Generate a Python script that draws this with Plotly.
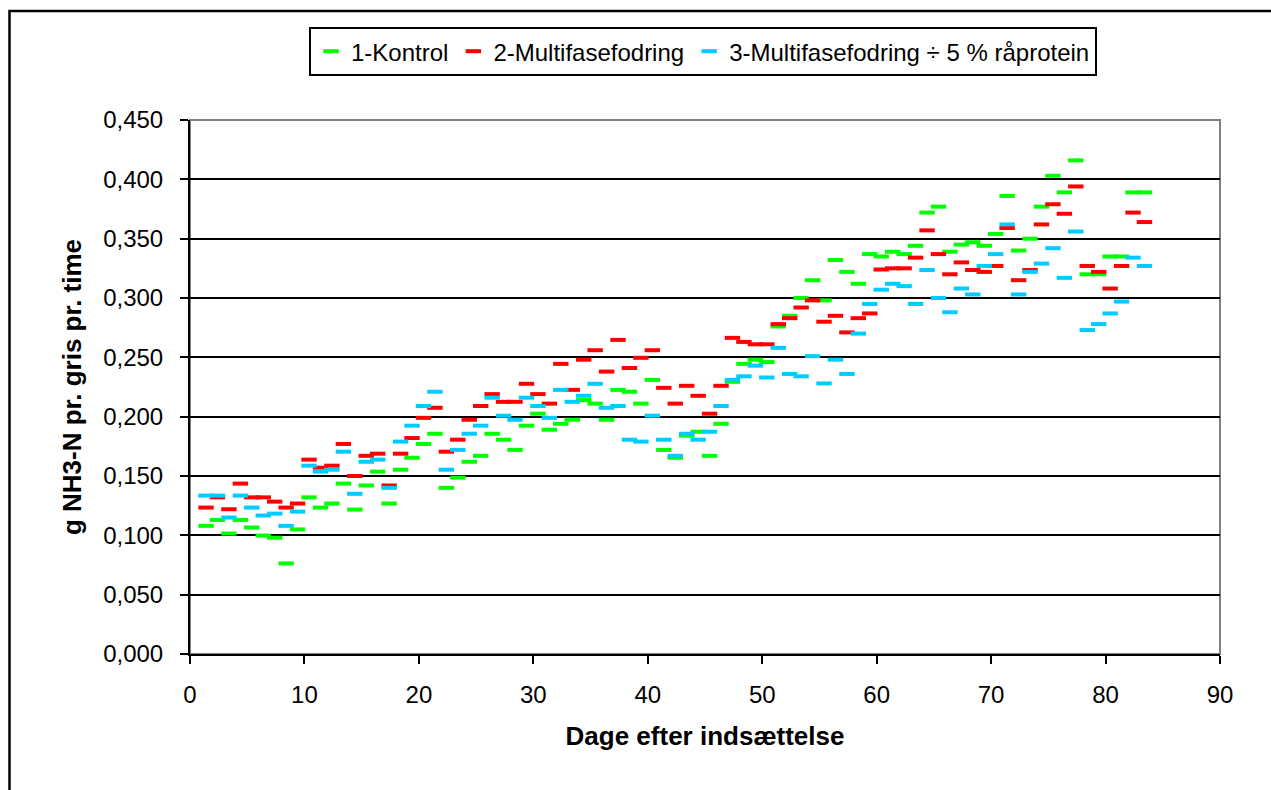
import plotly.graph_objects as go

days = [1.4, 2.4, 3.4, 4.4, 5.4, 6.4, 7.4, 8.4, 9.4, 10.4,
        11.4, 12.4, 13.4, 14.4, 15.4, 16.4, 17.4, 18.4, 19.4, 20.4,
        21.4, 22.4, 23.4, 24.4, 25.4, 26.4, 27.4, 28.4, 29.4, 30.4,
        31.4, 32.4, 33.4, 34.4, 35.4, 36.4, 37.4, 38.4, 39.4, 40.4,
        41.4, 42.4, 43.4, 44.4, 45.4, 46.4, 47.4, 48.4, 49.4, 50.4,
        51.4, 52.4, 53.4, 54.4, 55.4, 56.4, 57.4, 58.4, 59.4, 60.4,
        61.4, 62.4, 63.4, 64.4, 65.4, 66.4, 67.4, 68.4, 69.4, 70.4,
        71.4, 72.4, 73.4, 74.4, 75.4, 76.4, 77.4, 78.4, 79.4, 80.4,
        81.4, 82.4, 83.4]

kontrol = [0.108, 0.113, 0.1015, 0.113, 0.1066, 0.0998, 0.098, 0.0763, 0.105, 0.132,
           0.1234, 0.1268, 0.1436, 0.1217, 0.142, 0.1537, 0.1268, 0.1553, 0.1654, 0.177,
           0.1856, 0.140, 0.1486, 0.162, 0.167, 0.1856, 0.1806, 0.172, 0.1924, 0.2025,
           0.189, 0.194, 0.1974, 0.214, 0.211, 0.1974, 0.2226, 0.221, 0.211, 0.231,
           0.172, 0.1654, 0.184, 0.1873, 0.167, 0.194, 0.2294, 0.2445, 0.248, 0.246,
           0.276, 0.285, 0.300, 0.315, 0.298, 0.332, 0.322, 0.312, 0.337, 0.335,
           0.339, 0.337, 0.344, 0.372, 0.377, 0.339, 0.345, 0.347, 0.344, 0.354,
           0.386, 0.340, 0.350, 0.377, 0.403, 0.389, 0.416, 0.320, 0.320, 0.335,
           0.335, 0.389, 0.389]

multifase = [0.1234, 0.132, 0.122, 0.1436, 0.132, 0.132, 0.1284, 0.1234, 0.1268, 0.1638,
             0.157, 0.1587, 0.177, 0.150, 0.167, 0.1688, 0.142, 0.1688, 0.182, 0.199,
             0.2075, 0.1705, 0.1806, 0.1974, 0.209, 0.219, 0.2125, 0.2125, 0.2277, 0.219,
             0.211, 0.2445, 0.2226, 0.248, 0.256, 0.238, 0.2647, 0.241, 0.2496, 0.256,
             0.2243, 0.211, 0.226, 0.2176, 0.2025, 0.226, 0.2664, 0.263, 0.261, 0.261,
             0.278, 0.283, 0.292, 0.298, 0.280, 0.285, 0.271, 0.283, 0.287, 0.324,
             0.325, 0.325, 0.334, 0.357, 0.337, 0.320, 0.330, 0.3236, 0.322, 0.327,
             0.359, 0.315, 0.3236, 0.362, 0.379, 0.371, 0.394, 0.327, 0.322, 0.308,
             0.327, 0.372, 0.364]

multifase_rp = [0.1335, 0.1335, 0.115, 0.1335, 0.1234, 0.1167, 0.1183, 0.108, 0.120, 0.1587,
                0.1537, 0.1553, 0.1705, 0.135, 0.162, 0.1638, 0.140, 0.179, 0.1924, 0.209,
                0.221, 0.1553, 0.172, 0.1856, 0.1924, 0.216, 0.2008, 0.1974, 0.216, 0.209,
                0.199, 0.2226, 0.2125, 0.2176, 0.2277, 0.2075, 0.209, 0.1806, 0.179, 0.2008,
                0.1806, 0.167, 0.1856, 0.1806, 0.1873, 0.209, 0.231, 0.234, 0.243, 0.233,
                0.258, 0.236, 0.234, 0.251, 0.228, 0.248, 0.236, 0.270, 0.295, 0.307,
                0.312, 0.310, 0.295, 0.3236, 0.300, 0.288, 0.308, 0.303, 0.327, 0.337,
                0.362, 0.303, 0.322, 0.329, 0.342, 0.317, 0.356, 0.273, 0.278, 0.287,
                0.297, 0.334, 0.327]

series_names = ["1-Kontrol", "2-Multifasefodring", "3-Multifasefodring ÷ 5 % råprotein"]
series_colors = ["#00FF00", "#FF0000", "#00CCFF"]
x_ticks = [0, 10, 20, 30, 40, 50, 60, 70, 80, 90]
y_ticks = [0.0, 0.05, 0.10, 0.15, 0.20, 0.25, 0.30, 0.35, 0.40, 0.45]

FONT = "Liberation Sans, Arial, sans-serif"

fig = go.Figure()
for name, vals, col in zip(series_names, [kontrol, multifase, multifase_rp], series_colors):
    fig.add_trace(go.Scatter(
        x=days, y=vals, mode="markers", name=name,
        marker=dict(symbol="line-ew", size=11, color=col,
                    line=dict(color=col, width=4)),
    ))

W, H = 1271, 790
L, R, T, B = 190, 51, 120, 135.5
pw, ph = W - L - R, H - T - B

def px_x(px):
    return (px - L) / pw

def px_y(py):
    return (H - B - py) / ph

fig.update_layout(
    width=W, height=H,
    margin=dict(l=L, r=R, t=T, b=B, pad=0),
    paper_bgcolor="white", plot_bgcolor="white",
    font=dict(family=FONT, size=24, color="black"),
    separators=",.",
    showlegend=True,
    legend=dict(
        orientation="h", x=px_x(703), xanchor="center", y=px_y(27), yanchor="top",
        bordercolor="black", borderwidth=2, bgcolor="white",
        font=dict(family=FONT, size=24, color="black"),
        itemwidth=30, tracegroupgap=0,
    ),
    xaxis=dict(
        range=[0, 90], tickvals=x_ticks, showgrid=False, zeroline=False,
        showline=True, linecolor="black", linewidth=2,
        ticks="outside", ticklen=8, tickwidth=2, tickcolor="black",
        tickfont=dict(family=FONT, size=24), ticklabelstandoff=10,
        title=dict(text="<b>Dage efter indsættelse</b>", font=dict(family=FONT, size=26), standoff=20),
    ),
    yaxis=dict(
        range=[0, 0.45], tickvals=y_ticks, tickformat=".3f",
        showgrid=True, gridcolor="black", gridwidth=2, zeroline=False,
        showline=True, linecolor="black", linewidth=2,
        ticks="outside", ticklen=8, tickwidth=2, tickcolor="black",
        tickfont=dict(family=FONT, size=24), ticklabelstandoff=12,
        title=dict(text="<b>g NH3-N pr. gris pr. time</b>", font=dict(family=FONT, size=26), standoff=14),
    ),
    shapes=[
        dict(type="rect", xref="paper", yref="paper",
             x0=0, x1=1, y0=0, y1=1, line=dict(color="#808080", width=2), layer="below"),
        dict(type="rect", xref="paper", yref="paper",
             x0=px_x(9.5), x1=px_x(1280), y0=px_y(800), y1=px_y(11),
             line=dict(color="black", width=2.5), layer="below"),
    ],
)

fig.write_html("out.html")
